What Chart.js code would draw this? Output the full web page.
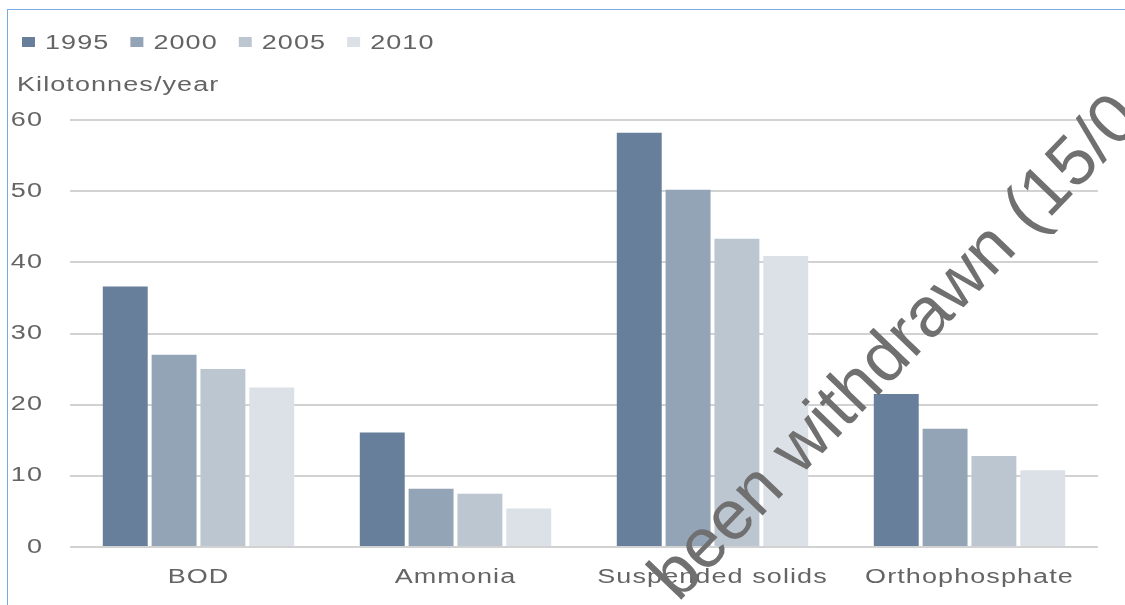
<!DOCTYPE html>
<html>
<head>
<meta charset="utf-8">
<script src="https://cdn.jsdelivr.net/npm/chart.js@4/dist/chart.umd.min.js"></script>
<style>
  html, body { margin: 0; padding: 0; background: #ffffff; }
  #wrap { position: relative; width: 1125px; height: 605px; overflow: hidden; }
  #c { position: absolute; left: 0; top: 0; }
  #frame {
    position: absolute; left: 7px; top: 9px; right: 0; bottom: 0;
    border-top: 1px solid #74acdf; border-left: 1px solid #74acdf;
    pointer-events: none;
  }
</style>
</head>
<body>
<div id="wrap">
  <canvas id="c" width="1125" height="605"></canvas>
  <div id="frame"></div>
</div>
<script>
// Discharges by pollutant, kilotonnes per year
const categories = ['BOD', 'Ammonia', 'Suspended solids', 'Orthophosphate'];
const years = ['1995', '2000', '2005', '2010'];
const v1995 = [36.6, 16.1, 58.2, 21.5];
const v2000 = [27.0, 8.2, 50.2, 16.6];
const v2005 = [25.0, 7.5, 43.3, 12.8];
const v2010 = [22.4, 5.4, 40.9, 10.8];
const yTicks = [0, 10, 20, 30, 40, 50, 60];
const unitLabel = 'Kilotonnes/year';
const stampText = 'been withdrawn (15/0';

const seriesValues = [v1995, v2000, v2005, v2010];
const seriesColors = ['#687f9b', '#93a4b6', '#bcc6d1', '#dce1e8'];

const FONT = '"Liberation Sans", Arial, sans-serif';
const TEXT_COLOR = '#646464';
const SPACING = '0.8px';
const WIDEN = 1.35;

// Horizontally widened lettering for every label the chart draws
function widenText(ctx, sx) {
  if (ctx.plainFillText) return;
  const fill = ctx.fillText.bind(ctx);
  const measure = ctx.measureText.bind(ctx);
  ctx.plainFillText = fill;
  ctx.fillText = function (text, x, y, maxWidth) {
    this.save();
    this.translate(x, y);
    this.scale(sx, 1);
    if (maxWidth === undefined) fill(text, 0, 0);
    else fill(text, 0, 0, maxWidth / sx);
    this.restore();
  };
  ctx.measureText = function (text) {
    const m = measure(text);
    return {
      width: m.width * sx,
      actualBoundingBoxLeft: m.actualBoundingBoxLeft * sx,
      actualBoundingBoxRight: m.actualBoundingBoxRight * sx,
      actualBoundingBoxAscent: m.actualBoundingBoxAscent,
      actualBoundingBoxDescent: m.actualBoundingBoxDescent
    };
  };
}

const textStylePlugin = {
  id: 'textStyle',
  beforeInit(chart) { widenText(chart.ctx, WIDEN); },
  beforeUpdate(chart) { chart.ctx.letterSpacing = SPACING; },
  beforeDraw(chart) { chart.ctx.letterSpacing = SPACING; }
};

// Legend row and unit caption above the plot
const headerPlugin = {
  id: 'header',
  afterDraw(chart) {
    const ctx = chart.ctx;
    ctx.save();
    ctx.letterSpacing = SPACING;
    ctx.font = '20px ' + FONT;
    ctx.textAlign = 'left';
    ctx.textBaseline = 'middle';
    let x = 22;
    chart.data.datasets.forEach(ds => {
      ctx.fillStyle = ds.backgroundColor;
      ctx.fillRect(x, 37, 13, 10);
      ctx.fillStyle = TEXT_COLOR;
      ctx.fillText(ds.label, x + 23, 43);
      x += 23 + ctx.measureText(ds.label).width + 21;
    });
    ctx.textBaseline = 'alphabetic';
    ctx.fillText(unitLabel, 17, 91);
    ctx.restore();
  }
};

// Diagonal stamp across the right half
const stampPlugin = {
  id: 'stamp',
  afterDraw(chart) {
    const ctx = chart.ctx;
    ctx.save();
    ctx.letterSpacing = '0px';
    ctx.translate(678, 603);
    ctx.rotate(-46 * Math.PI / 180);
    ctx.font = '70px ' + FONT;
    ctx.fillStyle = '#707070';
    ctx.textAlign = 'left';
    ctx.textBaseline = 'alphabetic';
    ctx.plainFillText(stampText, 0, 0);
    ctx.restore();
  }
};

new Chart(document.getElementById('c'), {
  type: 'bar',
  data: {
    labels: categories,
    datasets: years.map((y, i) => ({
      label: y,
      data: seriesValues[i],
      backgroundColor: seriesColors[i],
      borderWidth: 0,
      categoryPercentage: 0.76,
      barPercentage: 0.92
    }))
  },
  options: {
    responsive: false,
    devicePixelRatio: 1,
    animation: false,
    layout: { padding: { left: 0, right: 27, top: 120, bottom: 0 } },
    plugins: {
      legend: { display: false },
      title: { display: false },
      tooltip: { enabled: false }
    },
    scales: {
      x: {
        grid: { display: false, drawTicks: false },
        border: { display: false },
        ticks: {
          color: TEXT_COLOR,
          font: { family: FONT, size: 20 },
          padding: 18,
          maxRotation: 0,
          autoSkip: false
        },
        afterFit(scale) { scale.height = 58; }
      },
      y: {
        min: 0,
        max: 60,
        afterBuildTicks(scale) { scale.ticks = yTicks.map(v => ({ value: v })); },
        grid: { color: '#d2d2d2', lineWidth: 2, drawTicks: false },
        border: { display: false },
        ticks: {
          color: TEXT_COLOR,
          font: { family: FONT, size: 20 },
          padding: 27
        },
        afterFit(scale) { scale.width = 70; }
      }
    }
  },
  plugins: [textStylePlugin, headerPlugin, stampPlugin]
});
</script>
</body>
</html>
